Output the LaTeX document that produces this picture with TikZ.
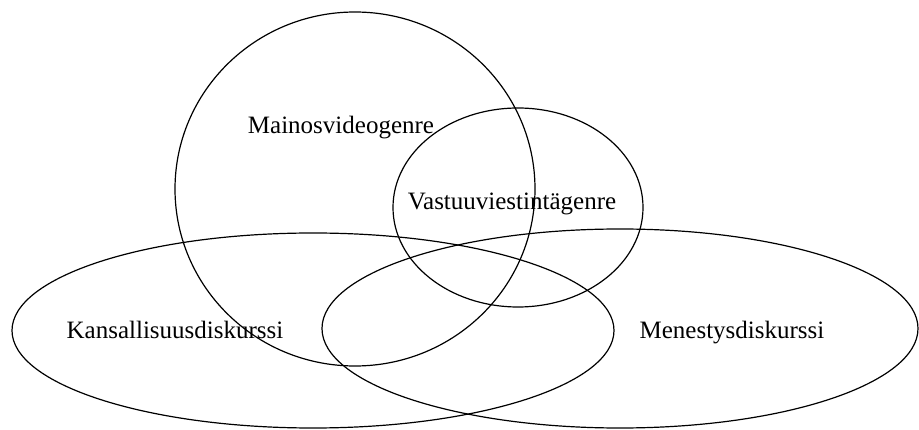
\documentclass[tikz,border=0pt]{standalone}
\usepackage{fontspec}
\setmainfont{Liberation Serif}
\usetikzlibrary{shapes.geometric}

\begin{document}
\begin{tikzpicture}[x=1pt, y=-1pt,
setnode/.style={ellipse, draw=black, line width=1.2pt, inner sep=0pt},
labelnode/.style={font=\fontsize{25}{28}\selectfont, inner sep=0pt},
]
\useasboundingbox (0,0) rectangle (919,430);
%Sets
\node[setnode, minimum width=360pt, minimum height=354pt] (mainos)    at (355,189)   {};
\node[setnode, minimum width=250pt, minimum height=199pt] (vastuu)    at (518,207.5) {};
\node[setnode, minimum width=602pt, minimum height=195pt] (kansallis) at (313,330.5) {};
\node[setnode, minimum width=596pt, minimum height=199pt] (menestys)  at (620,328.5) {};

%Labels
\node[labelnode] (mainoslabel)    at (341,128) {Mainosvideogenre};
\node[labelnode] (vastuulabel)    at (512,204) {Vastuuviestintägenre};
\node[labelnode] (kansallislabel) at (175,330) {Kansallisuusdiskurssi};
\node[labelnode] (menestyslabel)  at (732,333) {Menestysdiskurssi};
\end{tikzpicture}
\end{document}
